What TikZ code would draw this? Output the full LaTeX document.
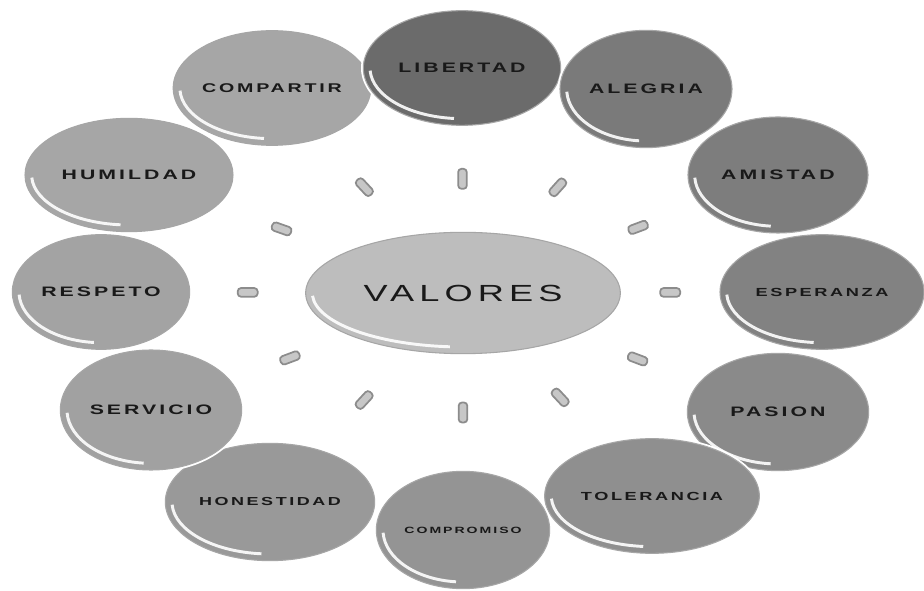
\documentclass[tikz,border=0pt]{standalone}
\usepackage{fontspec}
\usetikzlibrary{shapes,calc}
\newfontfamily\lbl{Liberation Sans}[FakeStretch=1.55,LetterSpace=22]

\begin{document}
\begin{tikzpicture}[x=0.75pt, y=0.75pt,
    glossy/.style={path picture={
        \draw[white, line width=2.2pt, opacity=0.9]
        let \p1=($(path picture bounding box.north east)-(path picture bounding box.center)$)
        in ($(path picture bounding box.center)+(183:{\x1-5pt} and {\y1-5pt})$)
        arc[start angle=183, end angle=265, x radius=\x1-5pt, y radius=\y1-5pt];}},
    item/.style={ellipse, inner sep=0pt, draw=black!35, line width=0.8pt,
        preaction={draw=white, line width=3.5pt}, text=black!90,
        font=\lbl\bfseries\fontsize{10.3}{12}\selectfont, glossy},
    link/.style={rectangle, rounded corners=2.5pt, draw=black!45, line width=1.3pt,
        fill=black!22, minimum width=15pt, minimum height=6.5pt, inner sep=0pt}]

    \fill[white] (-463,-298) rectangle (461,293);
    \useasboundingbox (-463,-298) rectangle (461,293);

    % centre
    \draw(0,0) node[item, fill=black!26, minimum width=236pt, minimum height=91pt,
        font=\lbl\fontsize{17.5}{20}\selectfont] (V) {VALORES};

    % ring of values
    \draw(-334,118) node[item, fill=black!35, minimum width=156pt, minimum height=85pt] (HUM) {HUMILDAD};
    \draw(-191,205) node[item, fill=black!35, minimum width=146pt, minimum height=86pt,
        font=\lbl\bfseries\fontsize{9.5}{11}\selectfont] (COMP) {COMPARTIR};
    \draw(-1,225) node[item, fill=black!58, minimum width=148pt, minimum height=86pt] (LIB) {LIBERTAD};
    \draw(183,204) node[item, fill=black!52, minimum width=129pt, minimum height=88pt] (ALE) {ALEGRIA};
    \draw(315,118) node[item, fill=black!51, minimum width=135pt, minimum height=87pt] (AMI) {AMISTAD};
    \draw(359,1) node[item, fill=black!49, minimum width=153pt, minimum height=86pt,
        font=\lbl\bfseries\fontsize{8.8}{9}\selectfont] (ESP) {ESPERANZA};
    \draw(315,-119) node[item, fill=black!46, minimum width=136pt, minimum height=88pt] (PAS) {PASION};
    \draw(189,-203) node[item, fill=black!44, minimum width=161pt, minimum height=86pt,
        font=\lbl\bfseries\fontsize{8.8}{9}\selectfont] (TOL) {TOLERANCIA};
    \draw(0,-237) node[item, fill=black!42, minimum width=130pt, minimum height=88pt,
        font=\lbl\bfseries\fontsize{6.8}{7}\selectfont] (CPR) {COMPROMISO};
    \draw(-193,-209) node[item, fill=black!40, minimum width=157pt, minimum height=88pt,
        font=\lbl\bfseries\fontsize{8.7}{9}\selectfont] (HON) {HONESTIDAD};
    \draw(-312,-117) node[item, fill=black!37, minimum width=136pt, minimum height=90pt] (SER) {SERVICIO};
    \draw(-362,1) node[item, fill=black!36, minimum width=133pt, minimum height=86pt] (RES) {RESPETO};

    % links
    \path (V) to node[link, sloped] (l1) {} (LIB);
    \path (V) to node[link, sloped] (l2) {} (ALE);
    \path (V) to node[link, sloped] (l3) {} (AMI);
    \path (V) to node[link, sloped] (l4) {} (ESP);
    \path (V) to node[link, sloped] (l5) {} (PAS);
    \path (V) to node[link, sloped] (l6) {} (TOL);
    \path (V) to node[link, sloped] (l7) {} (CPR);
    \path (V) to node[link, sloped] (l8) {} (HON);
    \path (V) to node[link, sloped] (l9) {} (SER);
    \path (V) to node[link, sloped] (l10) {} (RES);
    \path (V) to node[link, sloped] (l11) {} (HUM);
    \path (V) to node[link, sloped] (l12) {} (COMP);

\end{tikzpicture}
\end{document}
